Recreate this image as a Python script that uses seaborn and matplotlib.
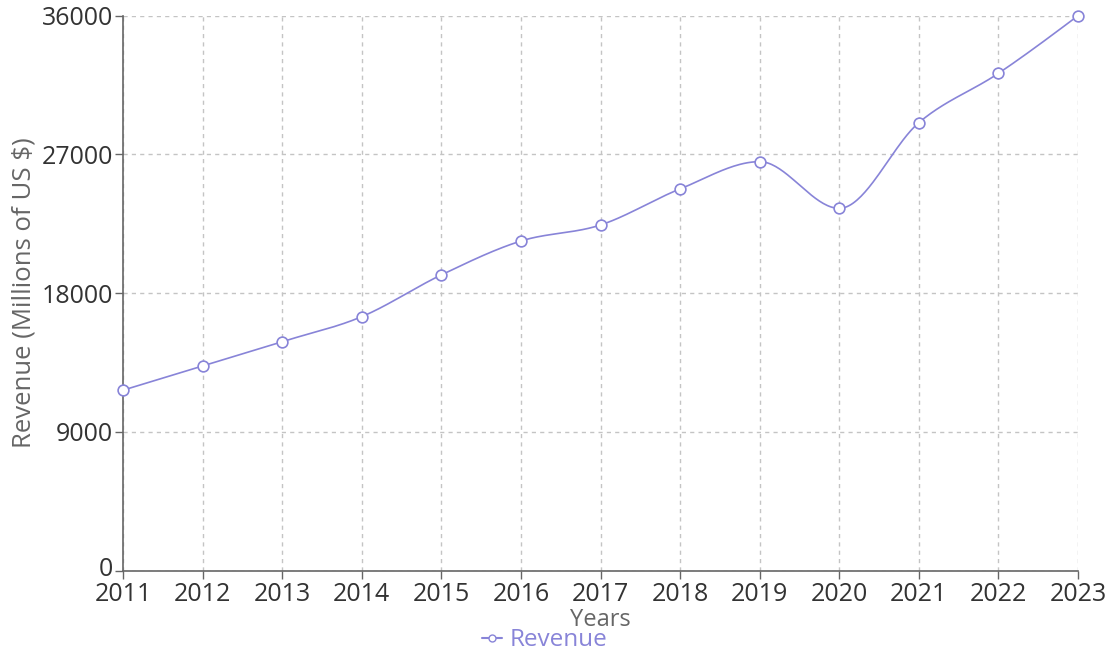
import numpy as np
import pandas as pd
import matplotlib
matplotlib.use("Agg")
import matplotlib.pyplot as plt
import matplotlib.transforms as mtransforms
import seaborn as sns
from matplotlib.lines import Line2D

years = [2011, 2012, 2013, 2014, 2015, 2016, 2017, 2018, 2019, 2020, 2021, 2022, 2023]
revenue = [11700, 13270, 14850, 16470, 19180, 21380, 22420, 24760, 26530, 23500, 29060, 32260, 36000]
y_ticks = [0, 9000, 18000, 27000, 36000]

line_color = "#8884d8"
text_color = "#666666"


def monotone_x(x, y, n=40):
    # d3 curveMonotoneX style smoothing between the data points
    x = np.asarray(x, float)
    y = np.asarray(y, float)
    h = np.diff(x)
    s = np.diff(y) / h
    t = np.zeros_like(y)
    for i in range(1, len(y) - 1):
        s0, s1 = s[i - 1], s[i]
        if s0 * s1 <= 0:
            t[i] = 0.0
        else:
            p = (s0 * h[i] + s1 * h[i - 1]) / (h[i - 1] + h[i])
            t[i] = (np.sign(s0) + np.sign(s1)) * min(abs(s0), abs(s1), 0.5 * abs(p))
    t[0] = (3 * s[0] - t[1]) / 2
    t[-1] = (3 * s[-1] - t[-2]) / 2
    xs, ys = [], []
    for i in range(len(h)):
        u = np.linspace(0, 1, n, endpoint=(i == len(h) - 1))
        h00 = 2 * u**3 - 3 * u**2 + 1
        h10 = u**3 - 2 * u**2 + u
        h01 = -2 * u**3 + 3 * u**2
        h11 = u**3 - u**2
        xs.append(x[i] + u * h[i])
        ys.append(h00 * y[i] + h10 * h[i] * t[i] + h01 * y[i + 1] + h11 * h[i] * t[i + 1])
    return np.concatenate(xs), np.concatenate(ys)


df = pd.DataFrame({"Year": years, "Revenue": revenue})
sx, sy = monotone_x(years, revenue)
smooth = pd.DataFrame({"Year": sx, "Revenue": sy})

sns.set_theme(style="white")
plt.rcParams["font.family"] = ["Open Sans", "DejaVu Sans"]

fig = plt.figure(figsize=(11.12, 6.53), dpi=100)
ax = fig.add_axes([123 / 1112, 1 - 570.5 / 653, (1078 - 123) / 1112, (570.5 - 15.7) / 653])

sns.lineplot(data=smooth, x="Year", y="Revenue", color=line_color, linewidth=1.2, ax=ax, zorder=3)
sns.scatterplot(data=df, x="Year", y="Revenue", color="white", edgecolor=line_color,
                linewidth=1.2, s=60, ax=ax, zorder=4, clip_on=False)

ax.set_xlim(years[0], years[-1])
ax.set_ylim(0, 36000)
ax.set_xticks(years)
ax.set_yticks(y_ticks)
ax.set_xticklabels([str(y) for y in years])

ax.grid(True, color="#c4c4c4", linestyle=(0, (3, 3)), linewidth=1)
ax.set_axisbelow(True)
for side in ["top", "right"]:
    ax.spines[side].set_visible(False)
for side in ["left", "bottom"]:
    ax.spines[side].set_color(text_color)
    ax.spines[side].set_linewidth(1.2)
ax.tick_params(axis="both", colors=text_color, labelcolor="#333333", labelsize=18,
               length=6, width=1, direction="out", bottom=True, left=True)
ax.tick_params(axis="x", pad=2)
ax.tick_params(axis="y", pad=1)

# nudge the "0" label up a little so it clears "2011"
zero_lbl = ax.get_yticklabels()[0]
zero_lbl.set_transform(zero_lbl.get_transform()
                       + mtransforms.ScaledTranslation(0, 3 / 72, fig.dpi_scale_trans))

ax.set_xlabel("Years", fontsize=17, color=text_color, labelpad=1)
ax.set_ylabel("Revenue (Millions of US $)", fontsize=18.5, color=text_color, labelpad=4)

handle = Line2D([0], [0], color=line_color, marker="o", markerfacecolor="white",
                markeredgecolor=line_color, markersize=5, linewidth=1.5)
fig.legend([handle], ["Revenue"], loc="center", bbox_to_anchor=(545 / 1112, 1 - 640.5 / 653),
           frameon=False, fontsize=17.5, labelcolor=line_color, handlelength=0.8,
           handletextpad=0.35, borderpad=0)

fig.savefig("out.png", dpi=100)
